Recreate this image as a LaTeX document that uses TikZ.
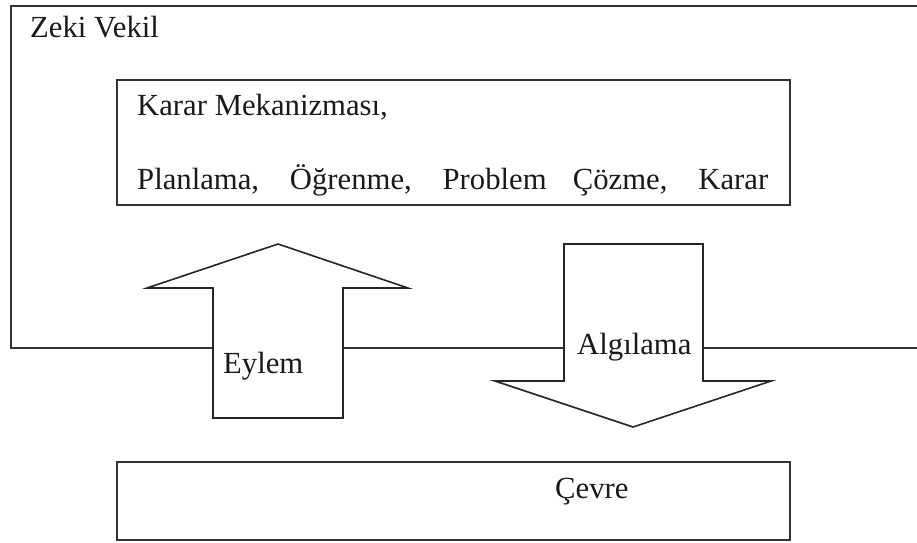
\documentclass[tikz,border=0pt]{standalone}
\usepackage{fontspec}
\setmainfont{Liberation Serif}
\begin{document}
\begin{tikzpicture}[x=1pt,y=-1pt,
  frame/.style={draw=black!80, line width=1.6pt},
  blockarrow/.style={draw=black!85, line width=1.6pt, fill=white, line join=miter},
  lbl/.style={anchor=base west, inner sep=0pt, font=\fontsize{30.7}{36}\selectfont, text=black!90}]
  \useasboundingbox (0,0) rectangle (917,542);
  % agent frame: open on the right side
  \draw[frame] (917,6) -- (11,6) -- (11,348) -- (917,348);
  \node[lbl] (agent) at (30,37) {Zeki Vekil};
  % decision mechanism box
  \draw[frame] (117,80) rectangle (790,205);
  \node[lbl] (mech) at (137,115) {Karar Mekanizması,};
  \node[lbl] (tasks) at (137,189) {\makebox[631pt][s]{Planlama, Öğrenme, Problem Çözme, Karar}};
  % environment box
  \draw[frame] (117,462) rectangle (790,540);
  \node[lbl] (env) at (555,498) {Çevre};
  % action arrow (up)
  \draw[blockarrow] (213,418) -- (213,288) -- (147,288) -- (278,244) -- (408,288)
     -- (343,288) -- (343,418) -- cycle;
  \node[lbl] (act) at (223,373) {Eylem};
  % perception arrow (down)
  \draw[blockarrow] (564,244) -- (703,244) -- (703,381) -- (771,381) -- (633,427)
     -- (495,381) -- (564,381) -- cycle;
  \node[lbl] (perc) at (577,354) {Algılama};
\end{tikzpicture}
\end{document}
